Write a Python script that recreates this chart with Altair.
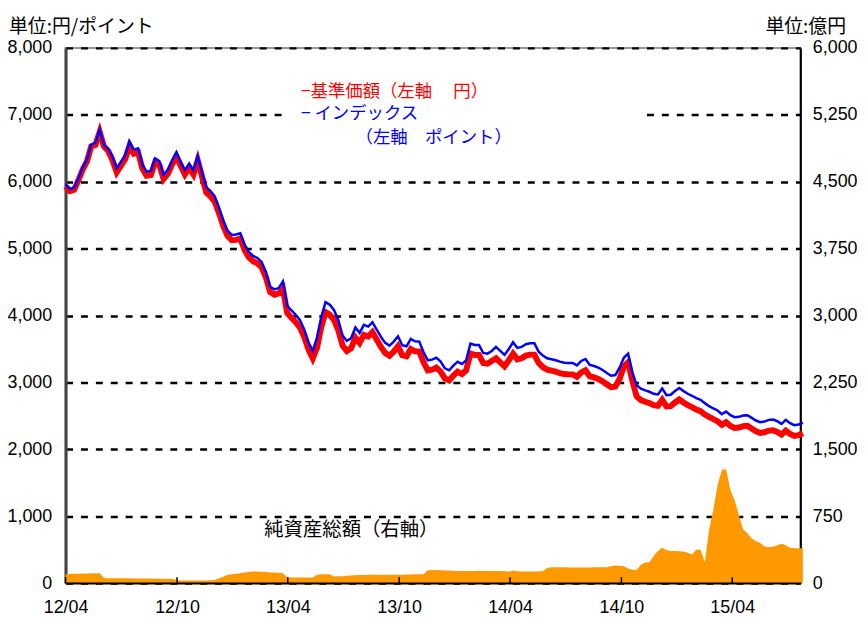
import altair as alt
import pandas as pd

start_date = "2012-04-01"

# 基準価額 (red, 円)
nav = [5930,5860,5880,6020,6180,6300,6525,6550,6745,6525,
       6460,6320,6140,6240,6340,6540,6420,6440,6200,6090,
       6100,6290,6250,6040,6120,6260,6380,6240,6110,6210,
       6110,6320,6080,5840,5780,5700,5530,5340,5190,5125,
       5130,5150,4980,4870,4810,4780,4720,4570,4350,4310,
       4330,4400,4040,3965,3900,3820,3680,3490,3360,3520,
       3830,4050,4010,3930,3780,3550,3470,3510,3670,3590,
       3710,3685,3750,3640,3530,3440,3400,3460,3540,3405,
       3390,3500,3465,3460,3300,3180,3190,3220,3160,3060,
       3030,3100,3160,3125,3180,3430,3410,3410,3290,3280,
       3320,3360,3300,3240,3330,3430,3345,3360,3400,3415,
       3415,3290,3230,3190,3175,3160,3140,3125,3120,3120,
       3085,3150,3180,3090,3075,3050,3015,2970,2930,2940,
       3050,3240,3300,3020,2790,2735,2710,2690,2660,2650,
       2740,2640,2645,2700,2745,2700,2660,2630,2595,2570,
       2520,2485,2450,2420,2365,2405,2350,2320,2325,2345,
       2350,2310,2270,2245,2255,2280,2285,2260,2220,2280,
       2230,2200,2210,2240]

# インデックス (blue, ポイント)
index_vals = [5960,5890,5910,6050,6210,6330,6555,6580,6775,6555,
              6490,6380,6200,6300,6400,6600,6480,6500,6260,6150,
              6160,6350,6310,6100,6180,6320,6440,6300,6170,6270,
              6170,6380,6140,5920,5860,5780,5610,5420,5270,5205,
              5210,5230,5060,4950,4890,4860,4800,4650,4430,4390,
              4410,4510,4150,4075,4010,3930,3790,3600,3470,3670,
              3980,4200,4160,4080,3930,3700,3620,3660,3820,3740,
              3860,3835,3900,3790,3680,3590,3550,3610,3690,3555,
              3540,3650,3615,3610,3450,3330,3340,3370,3310,3210,
              3180,3250,3310,3275,3330,3580,3560,3560,3440,3430,
              3470,3530,3470,3410,3500,3600,3515,3530,3570,3585,
              3585,3460,3400,3360,3345,3330,3310,3295,3290,3290,
              3255,3320,3350,3260,3245,3220,3185,3140,3100,3110,
              3220,3370,3430,3150,2960,2905,2880,2860,2830,2820,
              2910,2810,2815,2870,2915,2870,2830,2800,2765,2740,
              2690,2645,2610,2580,2525,2565,2510,2480,2485,2505,
              2510,2470,2430,2405,2415,2440,2445,2420,2380,2440,
              2390,2360,2370,2400]

# 純資産総額 (orange, 億円)
assets = [100,102,104,105,106,108,109,110,111,
          56,55,55,54,54,53,53,52,52,52,51,51,50,50,50,50,50,
          35,30,30,28,28,28,30,30,32,35,
          55,70,95,100,105,110,118,125,130,130,128,125,120,118,115,110,
          65,63,62,62,62,63,64,
          95,100,100,98,
          75,76,78,82,85,
          88,90,92,93,93,95,95,94,93,93,
          94,95,96,97,98,99,100,
          145,
          148,147,145,142,140,138,137,137,136,136,
          137,138,137,137,136,136,135,134,128,
          140,
          132,131,130,130,131,
          130,135,
          170,178,178,178,177,176,176,175,175,175,176,177,178,178,178,
          190,197,195,190,165,150,148,
          205,230,235,305,360,397,370,360,360,358,355,340,322,378,375,235,
          600,820,1100,1270,1275,1040,930,760,600,560,500,470,450,410,405,408,425,440,425,395,390,392,392]

tick_dates = ["2012-04-01", "2012-10-01", "2013-04-01", "2013-10-01",
              "2014-04-01", "2014-10-01", "2015-04-01"]
left_ticks = [0, 1000, 2000, 3000, 4000, 5000, 6000, 7000, 8000]
right_ticks = [0, 750, 1500, 2250, 3000, 3750, 4500, 5250, 6000]

dates = pd.date_range(start_date, periods=len(nav), freq="7D")
df = pd.DataFrame({
    "date": dates.strftime("%Y-%m-%dT00:00:00"),
    "nav": nav,
    "idx": index_vals,
    "assets": assets,
})
ticks_df = pd.DataFrame({"date": [t + "T00:00:00" for t in tick_dates]})

NUM_FONT = "Liberation Sans"
JP_FONT = "Noto Sans CJK JP"

xscale = alt.Scale(domain=[alt.DateTime(year=2012, month=4, date=1),
                           alt.DateTime(year=2015, month=7, date=22)])

x_axis = alt.Axis(
    values=[alt.DateTime(year=int(t[:4]), month=int(t[5:7]), date=1) for t in tick_dates],
    format="%y/%m", title=None, grid=False, ticks=False, tickSize=0,
    labelFontSize=18, labelFont=NUM_FONT, labelColor="black",
    labelPadding=16, labelFlush=False, labelOverlap=False,
    domainColor="black", domainWidth=2, zindex=1,
)

left_axis = alt.Axis(orient="left", values=left_ticks, format=",d", title=None,
                     grid=True, gridColor="black", gridDash=[7, 8], gridWidth=2.5,
                     ticks=False, tickSize=0, labelPadding=14,
                     labelFontSize=18, labelFont=NUM_FONT, labelColor="black",
                     domainColor="#444444", domainWidth=3)

right_axis = alt.Axis(orient="right", values=right_ticks, format=",d", title=None,
                      grid=False, ticks=False, tickSize=0, labelPadding=12,
                      labelFontSize=18, labelFont=NUM_FONT, labelColor="black",
                      domainColor="black", domainWidth=2)

left_scale = alt.Scale(domain=[0, 8000])

base = alt.Chart(df)

area = base.mark_area(color="#FF9900", opacity=1).encode(
    x=alt.X("date:T", scale=xscale, axis=x_axis),
    y=alt.Y("assets:Q", scale=alt.Scale(domain=[0, 6000]), axis=right_axis),
)

red = base.mark_line(color="#FF0000", strokeWidth=6).encode(
    x=alt.X("date:T", scale=xscale, axis=x_axis),
    y=alt.Y("nav:Q", scale=left_scale, axis=left_axis),
)

blue = base.mark_line(color="#0000FF", strokeWidth=2.5).encode(
    x=alt.X("date:T", scale=xscale, axis=x_axis),
    y=alt.Y("idx:Q", scale=left_scale, axis=left_axis),
)

lines = alt.layer(red, blue)

xticks = alt.Chart(ticks_df).mark_rule(color="black", strokeWidth=1.5).encode(
    x=alt.X("date:T", scale=xscale, axis=x_axis),
    y=alt.value(533), y2=alt.value(539),
)

legend_bg = alt.Chart(ticks_df).mark_rect(color="white").encode(
    x=alt.value(221), x2=alt.value(584), y=alt.value(30), y2=alt.value(104),
)

def label(text, x, y, color, size, align="left"):
    return alt.Chart(pd.DataFrame({"t": [text]})).mark_text(
        align=align, baseline="middle", font=JP_FONT, fontSize=size, color=color
    ).encode(text="t:N", x=alt.value(x), y=alt.value(y))

texts = [
    label("−基準価額（左軸　 円）", 237, 44, "#FF0000", 17.5),
    label("− インデックス", 237, 67, "#0000FF", 17.5),
    label("（左軸　ポイント）", 292, 91, "#0000FF", 17.5),
    label("純資産総額（右軸）", 200, 486, "black", 19.5),
    label("単位:円/ポイント", -57, -21, "black", 19),
    label("単位:億円", 786, -21, "black", 19, align="right"),
]

chart = alt.layer(area, lines, xticks, legend_bg, *texts).resolve_scale(
    y="independent"
).properties(
    width=740, height=539,
    padding={"left": 58, "top": 38, "right": 57, "bottom": 36},
    autosize=alt.AutoSizeParams(type="none"),
).configure_view(stroke="#999999", strokeWidth=2)

chart.save("out.html", embed_options={"renderer": "svg", "actions": False})
